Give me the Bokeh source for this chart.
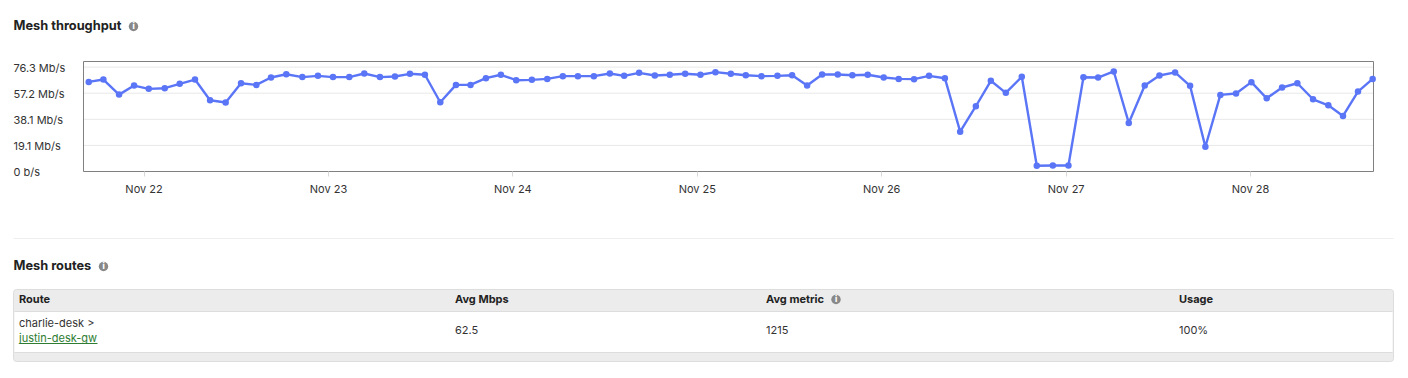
from bokeh.plotting import figure
from bokeh.models import Range1d, FixedTicker, BoxAnnotation
from bokeh.core.properties import value
from bokeh.embed import file_html
from bokeh.resources import INLINE

FONT = "Inter"
DARK = "#333333"

hours = [-7.20,-5.29,-3.25,-1.30,0.61,2.69,4.64,6.63,8.59,10.62,12.62,14.61,16.52,18.51,20.60,22.63,24.59,26.71,28.66,30.70,32.65,34.60,36.55,38.55,40.59,
         42.49,44.49,46.44,48.43,50.47,52.47,54.50,56.46,58.54,60.62,62.48,64.43,66.47,68.42,70.42,72.41,74.36,76.36,78.31,80.35,82.43,84.34,86.29,88.24,90.28,92.18,94.18,96.26,98.21,100.21,102.16,
         104.22,106.21,108.25,110.20,112.15,114.23,116.18,118.27,120.30,122.25,124.16,126.20,128.15,130.23,132.14,134.18,136.13,138.12,140.07,142.11,144.11,146.10,148.10,150.09,152.13,154.12,156.03,157.98,159.89]
mbps = [65.5,67.2,56.2,62.8,60.4,60.9,64.1,67.2,52.1,50.4,64.5,63.3,68.7,71.1,69.0,69.9,69.0,69.0,71.6,69.0,69.4,71.4,70.7,50.6,63.3,
        63.3,68.2,70.7,66.7,67.0,67.7,69.7,69.7,69.7,71.6,69.9,72.1,70.2,70.7,71.4,70.7,72.6,71.4,70.4,69.7,69.9,70.4,62.8,70.9,70.9,70.4,70.7,68.7,67.7,67.5,69.9,
        68.2,29.1,47.7,66.3,57.5,69.2,4.2,4.4,4.4,68.9,68.7,73.1,35.5,62.8,70.2,72.4,62.6,18.1,56.0,57.0,65.3,53.5,61.4,64.5,52.8,48.4,40.6,58.4,67.7]
y_ticks = [0, 19.07, 38.15, 57.22, 76.29]
y_labels = ["0 b/s", "19.1 Mb/s", "38.1 Mb/s", "57.2 Mb/s", "76.3 Mb/s"]
x_ticks = [0, 24, 48, 72, 96, 120, 144]
x_labels = ["Nov 22", "Nov 23", "Nov 24", "Nov 25", "Nov 26", "Nov 27", "Nov 28"]

columns = ["Route", "Avg Mbps", "Avg metric", "Usage"]
route_from = "charlie-desk >"
route_to = "justin-desk-gw"
row_values = ["62.5", "1215", "100%"]

W, H = 1400, 370
BOX_L, BOX_R, BOX_T, BOX_B = 83, 1373, 61, 171
X0, X1, Y0, Y1 = -7.88, 160.0, 0.0, 80.4
kx = (X1 - X0) / (BOX_R - BOX_L)
ky = (Y1 - Y0) / (BOX_B - BOX_T)

# The frame fills the canvas, so that nothing outside the chart box gets clipped.
p = figure(width=W, height=H, output_backend="svg", toolbar_location=None, min_border=0,
           x_range=Range1d(X0 - BOX_L * kx, X1 + (W - BOX_R) * kx),
           y_range=Range1d(Y0 - (H - BOX_B) * ky, Y1 + BOX_T * ky))
p.extra_x_ranges["page"] = Range1d(0, W)
p.extra_y_ranges["page"] = Range1d(H, 0)
p.outline_line_color = None
p.grid.visible = False
p.yaxis.visible = False
xa = p.xaxis[0]
xa.fixed_location = 0
xa.ticker = FixedTicker(ticks=x_ticks)
xa.major_label_overrides = dict(zip(x_ticks, x_labels))
xa.axis_line_color = None
xa.major_tick_line_color = "#d8d8d8"
xa.major_tick_in = 0
xa.major_tick_out = 5
xa.minor_tick_line_color = None
xa.major_label_text_font = FONT
xa.major_label_text_font_size = "11px"
xa.major_label_text_color = DARK
xa.major_label_standoff = 5

PAGE = dict(x_range_name="page", y_range_name="page")


def txt(x, y, s, size="11px", style="normal", color=DARK, font=FONT, align="left"):
    p.text([x], [y], text=[s], text_font=value(font), text_font_size=size, text_font_style=style,
           text_color=color, text_baseline="middle", text_align=align, **PAGE)


def box(left, right, top, bottom, fill, line=None, radius=0):
    p.add_layout(BoxAnnotation(left=left, right=right, top=top, bottom=bottom, fill_color=fill, fill_alpha=1,
                               line_color=line, line_alpha=1, border_radius=radius, level="underlay", **PAGE))


def info(x, y):
    p.scatter([x], [y], size=9.5, fill_color="#888888", line_color=None, **PAGE)
    txt(x, y, "i", "8px", "bold", "#ffffff", "DejaVu Sans", "center")


# chart box and gridlines
p.segment([BOX_L] * 5, y_ticks, [BOX_R] * 5, y_ticks, line_color="#e8e8e8", line_width=1, x_range_name="page")
p.quad(left=[BOX_L], right=[BOX_R], top=[BOX_T], bottom=[BOX_B], fill_color=None,
       line_color="#808080", line_width=1, **PAGE)
p.line(hours, mbps, line_color="#5b75f7", line_width=2.4)
p.scatter(hours, mbps, size=6.5, fill_color="#5b75f7", line_color=None)

p.text([13] * 5, y_ticks, text=y_labels, text_font=value(FONT), text_font_size="11px", text_color=DARK,
       text_baseline="middle", y_offset=0.5, x_range_name="page")

txt(13, 24.5, "Mesh throughput", "12.8px", "bold", "#222222")
info(133, 26)
box(13, 1393, 237.5, 238.5, "#eeeeee")
txt(13, 264.5, "Mesh routes", "12.8px", "bold", "#222222")
info(103, 266)
box(13, 1393, 289, 361, "#ececec", "#dddddd", 3)
box(14, 1392, 311.5, 351.5, "#ffffff")
box(14, 1392, 310.5, 311.5, "#dddddd")
box(14, 1392, 351.5, 352.5, "#dddddd")
for x, s in zip([18.5, 454.5, 765.5, 1178.5], columns):
    txt(x, 298.5, s, "11px", "bold", "#222222")
info(835.5, 299)
txt(18.5, 322.5, route_from)
txt(18.5, 337.5, route_to, color="#2e7d32")
box(19, 97, 342.5, 343.5, "#2e7d32")
for x, s in zip([454.5, 765.5, 1178.5], row_values):
    txt(x, 329.5, s)

open("out.html", "w").write(file_html(p, INLINE))
